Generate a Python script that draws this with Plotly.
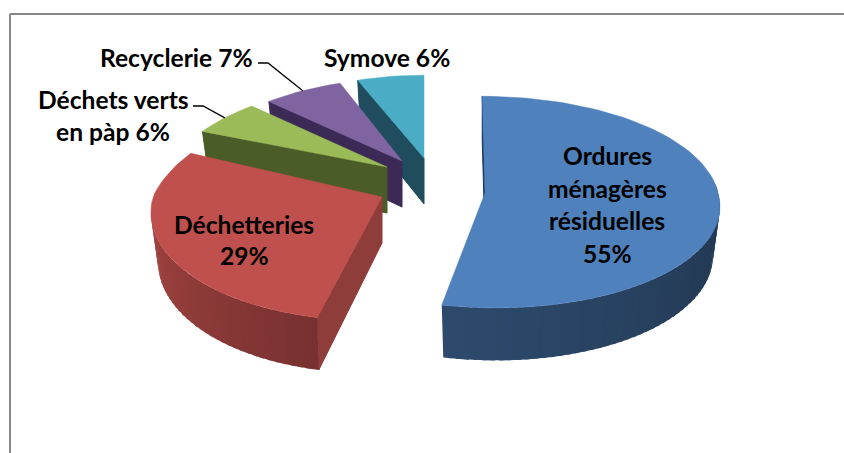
import math
import plotly.graph_objects as go

# ---- data ----
categories = ["Ordures ménagères résiduelles", "Déchetteries", "Déchets verts en pàp", "Recyclerie", "Symove"]
values = [55, 29, 6, 7, 6]
label_lines = [["Ordures", "ménagères", "résiduelles", "55%"], ["Déchetteries", "29%"],
               ["Déchets verts", "en pàp 6%"], ["Recyclerie 7%"], ["Symove 6%"]]

# ---- styling: colours per slice ----
top_colors = ["#4f81bd", "#c0504d", "#9bbb59", "#8064a2", "#4bacc6"]
face_colors = ["#17365d", "#8f3d3a", "#4a5c27", "#3b2a55", "#1f4d5e"]

# ---- 3D pie layout (pixel space): apex x, apex y, radius x, radius y, lean at back, lean at front ----
W, H = 844, 453
K = 0.086
slice_geo = [
    (485, 193, 233, 105, -3, -10),
    (382, 197, 229, 113, 30, 11),
    (387, 167, 214, 92, 13, 13),
    (402, 161, 205, 90, 7, 7),
    (424, 158, 200, 90, 0, 0),
]
DEPTH = 48


def rim(i, deg):
    ax, ay, rx, ry, lean_b, lean_f = slice_geo[i]
    t = math.radians(deg)
    c = math.cos(t)
    w = 1 + K * c
    lean = lean_b if c > 0 else lean_f
    return ax + (rx * math.sin(t) + lean * c) / w, ay - ry * c / w


def rim_low(i, deg):
    # lower edge of the wall: same rim, dropped and slightly narrowed
    x, y = rim(i, deg)
    t = math.radians(deg)
    return x - 7 * math.sin(t), y + DEPTH / (1 + K * math.cos(t))


def shade(hex_color, f):
    r, g, b = int(hex_color[1:3], 16), int(hex_color[3:5], 16), int(hex_color[5:7], 16)
    return "rgb(%d,%d,%d)" % (r * f, g * f, b * f)


def brightness(deg):
    if deg <= 192:
        return 0.42 + 0.16 * max(0.0, (deg - 90) / 102)
    return 0.62 + 0.24 * (deg - 192) / 72


def poly(xs, ys, color, name, edge=0):
    return go.Scatter(x=xs, y=ys, mode="lines", fill="toself", fillcolor=color,
                      line=dict(color=color, width=edge), hoverinfo="skip", name=name, showlegend=False)


total = sum(values)
starts, a = [], 0.0
for v in values:
    starts.append(a)
    a += v / total * 360

fig = go.Figure()
for i in range(len(values) - 1, -1, -1):
    s, e = starts[i], starts[i] + values[i] / total * 360
    ax, ay = slice_geo[i][:2]
    n = max(6, int((e - s) / 2))
    degs = [s + (e - s) * j / n for j in range(n + 1)]
    # radial face at the start edge
    fx, fy = rim(i, s)
    lx, ly = rim_low(i, s)
    fig.add_trace(poly([ax, fx, lx, ax, ax], [ay, fy, ly, ay + DEPTH - 2, ay], face_colors[i], categories[i], edge=1))
    # curved outer wall, in overlapping strips
    for d0, d1 in zip(degs[:-1], degs[1:]):
        if 84 <= (d0 + d1) / 2 <= 264:
            d2 = min(d1 + 1.0, e)
            x0, y0 = rim(i, d0)
            x1, y1 = rim(i, d2)
            x2, y2 = rim_low(i, d2)
            x3, y3 = rim_low(i, d0)
            fig.add_trace(poly([x0, x1, x2, x3, x0], [y0, y1, y2, y3, y0],
                               shade(top_colors[i], brightness((d0 + d1) / 2)), categories[i]))
    # top surface
    pts = [rim(i, d) for d in degs]
    fig.add_trace(poly([ax] + [p[0] for p in pts] + [ax], [ay] + [p[1] for p in pts] + [ay],
                       top_colors[i], categories[i], edge=0.5))

# frame of the chart area (open on the right and the bottom of the crop)
frame_color = "#868686"
fig.add_shape(type="line", x0=10, y0=14, x1=W, y1=14, line=dict(color=frame_color, width=2))
fig.add_shape(type="line", x0=10, y0=14, x1=10, y1=H, line=dict(color=frame_color, width=2))

# leader lines
for i, (lx0, lx1, ly) in {2: (193, 203, 106), 3: (258, 268, 63)}.items():
    mid = starts[i] + values[i] / total * 180
    ex, ey = rim(i, mid)
    fig.add_trace(go.Scatter(x=[lx0, lx1, ex], y=[ly, ly, ey], mode="lines",
                             line=dict(color="black", width=1.3), hoverinfo="skip", showlegend=False))

FONT = dict(family="Lato", size=24.6, color="black")
label_anchor = [(607, [155, 188, 220, 253]), (244, [224, 255]), (113, [99, 131]), (176, [57]), (387, [57])]
for lines, (cx, rows) in zip(label_lines, label_anchor):
    for line, cy in zip(lines, rows):
        fig.add_annotation(x=cx, y=cy, text="<b>%s</b>" % line, showarrow=False, font=FONT,
                           xanchor="center", yanchor="middle")

fig.update_layout(width=W, height=H, margin=dict(l=0, r=0, t=0, b=0), paper_bgcolor="white",
                  plot_bgcolor="white", showlegend=False,
                  xaxis=dict(range=[0, W], visible=False, fixedrange=True),
                  yaxis=dict(range=[H, 0], visible=False, fixedrange=True))
fig.write_html("out.html", config={"displayModeBar": False},
               post_script="document.body.style.margin='0';")
